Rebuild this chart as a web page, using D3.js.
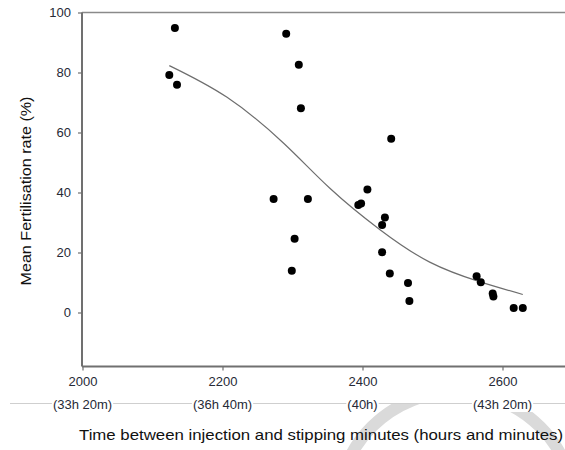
<!DOCTYPE html>
<html>
<head>
<meta charset="utf-8">
<script src="https://cdn.jsdelivr.net/npm/d3@7"></script>
<style>
  body { margin: 0; background: #fff; }
  text { font-family: "Liberation Sans", Arial, sans-serif; }
</style>
</head>
<body>
<script>
// observed points: minutes between injection and stripping vs fertilisation rate
var timeMin = [2124, 2132, 2135, 2291, 2309, 2312, 2273, 2322, 2303, 2299,
               2441, 2407, 2394, 2398, 2432, 2428, 2428, 2439, 2465, 2467,
               2563, 2569, 2586, 2587, 2616, 2629];
var fertRate = [79.2, 94.8, 75.9, 92.9, 82.6, 68.1, 37.8, 37.8, 24.6, 13.9,
                57.9, 41.0, 35.8, 36.3, 31.7, 29.2, 20.1, 13.0, 9.8, 3.8,
                12.1, 10.1, 6.3, 5.3, 1.5, 1.5];

// fitted curve
var fitX = [2124, 2206, 2287, 2353, 2425, 2496, 2567, 2629];
var fitY = [82.3, 71.8, 56.5, 41.5, 27.6, 16.8, 10.3, 6.0];

var xTicks = [2000, 2200, 2400, 2600];
var xTickHours = ["(33h 20m)", "(36h 40m)", "(40h)", "(43h 20m)"];
var yTicks = [0, 20, 40, 60, 80, 100];

var width = 565, height = 450;

var svg = d3.select("body").append("svg")
    .attr("width", width)
    .attr("height", height);

var x = d3.scaleLinear().domain([2000, 2690]).range([82.5, 565.5]);
var y = d3.scaleLinear().domain([-18, 100]).range([366.5, 12.5]);

// faint watermark ring at the bottom
var clip = svg.append("clipPath").attr("id", "wm");
clip.append("rect").attr("x", 0).attr("y", 404).attr("width", width).attr("height", 46);
svg.append("circle")
    .attr("cx", 456).attr("cy", 511).attr("r", 119)
    .attr("fill", "none")
    .attr("stroke", "#dadada")
    .attr("stroke-width", 12)
    .attr("clip-path", "url(#wm)");

// thin separator line under tick labels
svg.append("line")
    .attr("x1", 10).attr("x2", width)
    .attr("y1", 403.5).attr("y2", 403.5)
    .attr("stroke", "#cfcfcf")
    .attr("stroke-width", 1);

// top frame line
svg.append("line")
    .attr("x1", 82).attr("x2", width)
    .attr("y1", y(100)).attr("y2", y(100))
    .attr("stroke", "#8a8a8a")
    .attr("stroke-width", 1.6);

// y axis
var yAxis = svg.append("g")
    .attr("transform", "translate(82,0)")
    .call(d3.axisLeft(y).tickValues(yTicks).tickSize(4).tickPadding(7));
yAxis.select(".domain")
    .attr("d", "M0," + y(100) + "V" + y(-18))
    .attr("stroke", "#707070").attr("stroke-width", 2);

// x axis
var xAxis = svg.append("g")
    .attr("transform", "translate(0," + y(-18) + ")")
    .call(d3.axisBottom(x).tickValues(xTicks).tickSize(4).tickPadding(6).tickFormat(d3.format("d")));
xAxis.select(".domain")
    .attr("d", "M82," + 0 + "H" + width)
    .attr("stroke", "#707070").attr("stroke-width", 2);

svg.selectAll(".tick line").attr("stroke", "#707070").attr("stroke-width", 1.2);
svg.selectAll(".tick text")
    .attr("fill", "#262a36")
    .style("font-family", "'Liberation Sans', Arial, sans-serif")
    .style("font-size", "13px");

// hours labels under x ticks, with white backing so the separator line breaks
var hrs = svg.append("g").selectAll("g")
    .data(xTicks)
    .enter().append("g")
    .attr("transform", function(d) { return "translate(" + x(d) + ",409)"; });
hrs.append("text")
    .attr("text-anchor", "middle")
    .attr("fill", "#262a36")
    .style("font-size", "13px")
    .text(function(d, i) { return xTickHours[i]; });
hrs.each(function() {
  var g = d3.select(this);
  var bb = g.select("text").node().getBBox();
  g.insert("rect", "text")
    .attr("x", bb.x - 1).attr("y", bb.y)
    .attr("width", bb.width + 2).attr("height", bb.height)
    .attr("fill", "#fff");
});

// fitted curve
var line = d3.line()
    .x(function(d) { return x(d[0]); })
    .y(function(d) { return y(d[1]); })
    .curve(d3.curveNatural);
svg.append("path")
    .datum(fitX.map(function(v, i) { return [v, fitY[i]]; }))
    .attr("d", line)
    .attr("fill", "none")
    .attr("stroke", "#6e6e6e")
    .attr("stroke-width", 1.2);

// points
svg.append("g").selectAll("circle")
    .data(timeMin)
    .enter().append("circle")
    .attr("cx", function(d) { return x(d); })
    .attr("cy", function(d, i) { return y(fertRate[i]); })
    .attr("r", 4)
    .attr("fill", "#000");

// axis titles
svg.append("text")
    .attr("transform", "translate(31,191) rotate(-90)")
    .attr("text-anchor", "middle")
    .attr("fill", "#111")
    .style("font-size", "14px")
    .attr("textLength", 189)
    .attr("lengthAdjust", "spacingAndGlyphs")
    .text("Mean Fertilisation rate (%)");

svg.append("text")
    .attr("x", 321)
    .attr("y", 440)
    .attr("text-anchor", "middle")
    .attr("fill", "#111")
    .style("font-size", "15px")
    .attr("textLength", 484)
    .attr("lengthAdjust", "spacingAndGlyphs")
    .text("Time between injection and stipping minutes (hours and minutes)");
</script>
</body>
</html>
